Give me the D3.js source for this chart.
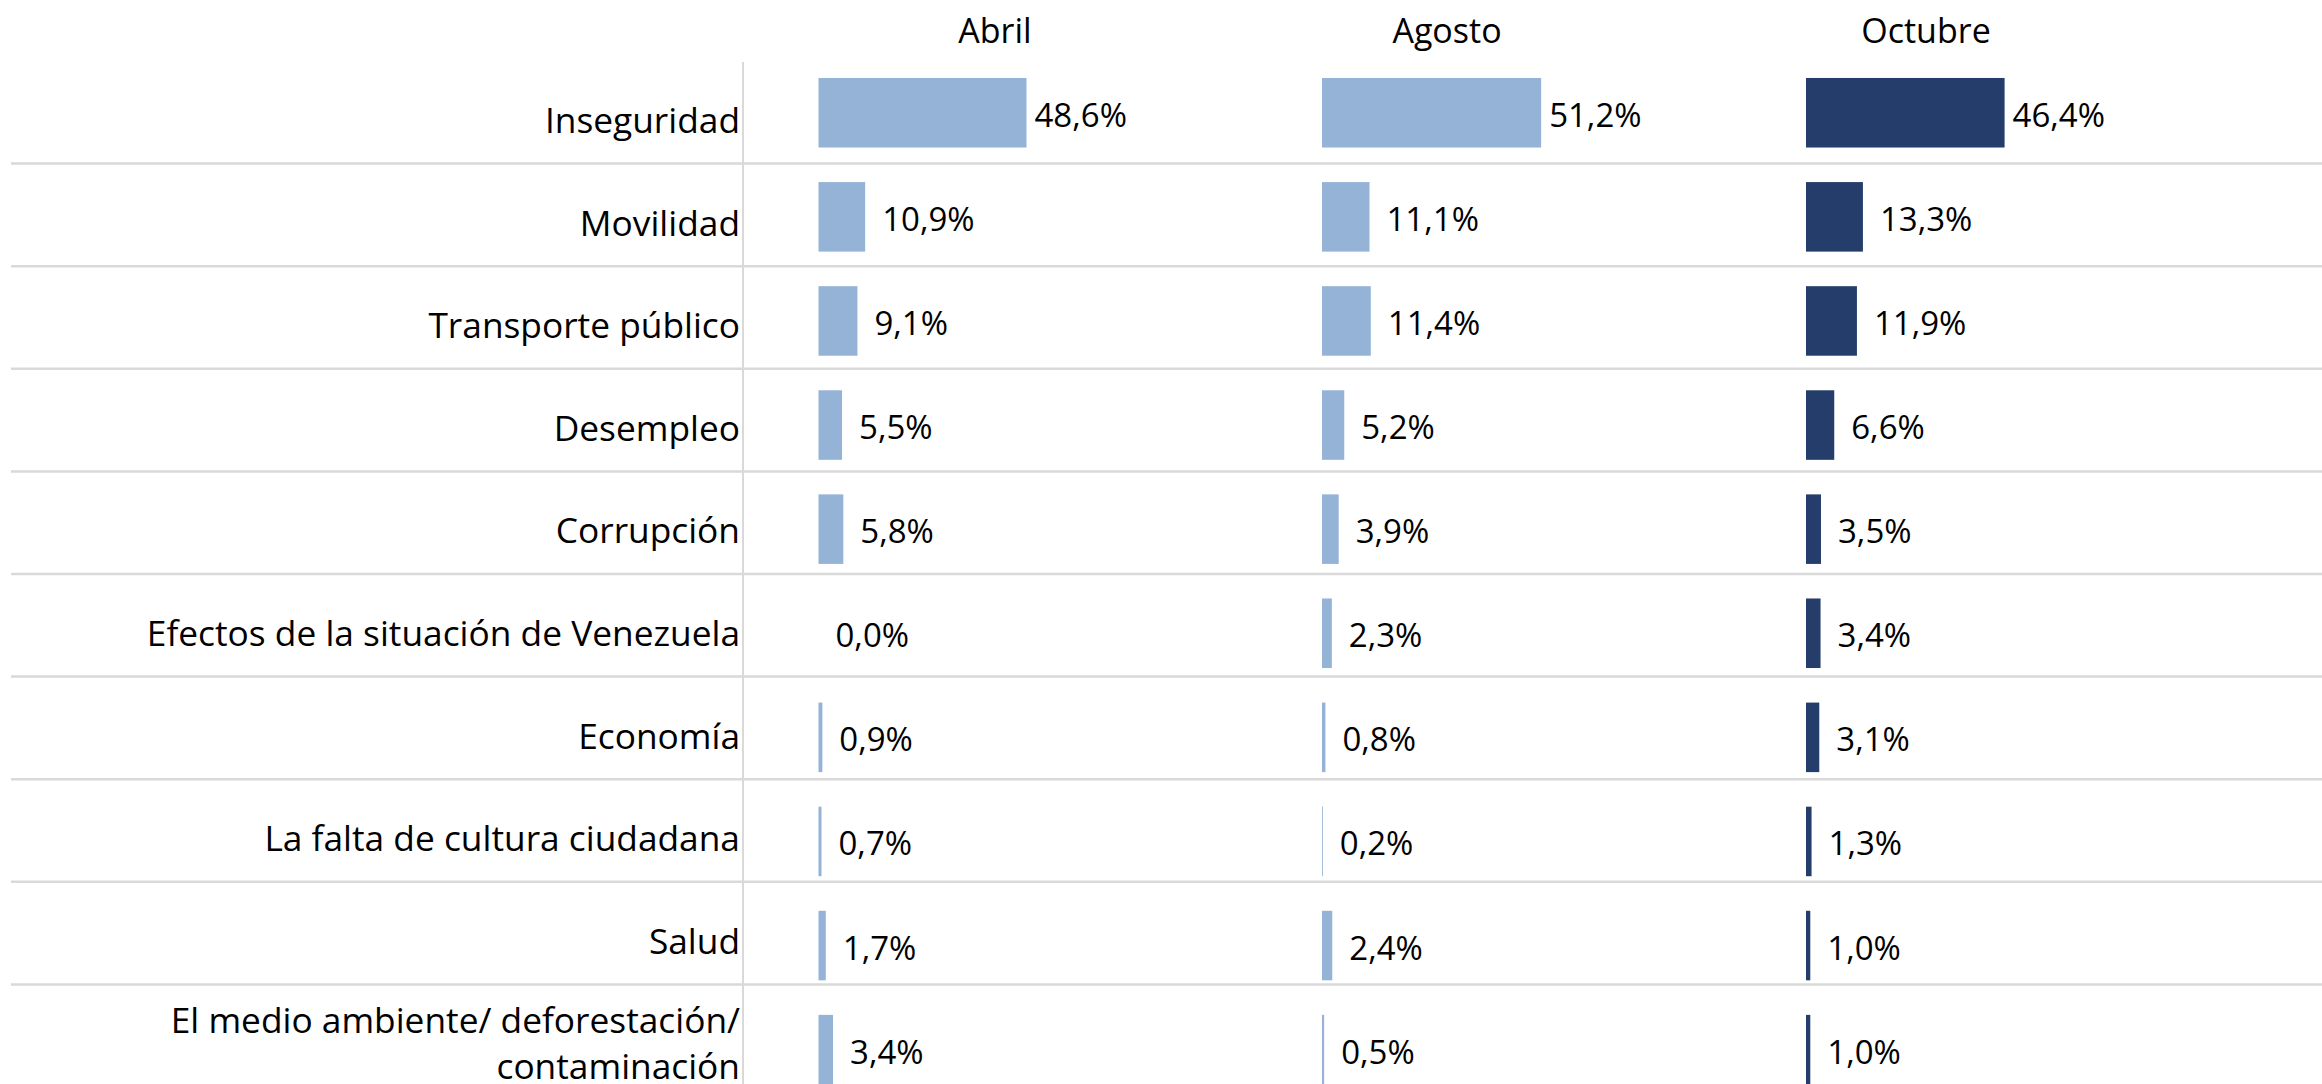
<!DOCTYPE html>
<html>
<head>
<meta charset="utf-8">
<script src="https://cdn.jsdelivr.net/npm/d3@7"></script>
<style>
  html, body { margin: 0; padding: 0; background: #fff; }
  svg { display: block; }
  text { font-family: "Open Sans", "Noto Sans", sans-serif; fill: #000; }
</style>
</head>
<body>
<svg id="chart" width="2322" height="1084"></svg>
<script>
// ---- data ----
const categories = [
  "Inseguridad",
  "Movilidad",
  "Transporte público",
  "Desempleo",
  "Corrupción",
  "Efectos de la situación de Venezuela",
  "Economía",
  "La falta de cultura ciudadana",
  "Salud",
  "El medio ambiente/ deforestación/\ncontaminación"
];
const periods = ["Abril", "Agosto", "Octubre"];
const abril   = [48.6, 10.9, 9.1, 5.5, 5.8, 0.0, 0.9, 0.7, 1.7, 3.4];
const agosto  = [51.2, 11.1, 11.4, 5.2, 3.9, 2.3, 0.8, 0.2, 2.4, 0.5];
const octubre = [46.4, 13.3, 11.9, 6.6, 3.5, 3.4, 3.1, 1.3, 1.0, 1.0];
const seriesValues = [abril, agosto, octubre];
const seriesColors = ["#95b3d7", "#95b3d7", "#253d6a"];

// ---- layout ----
const W = 2322, H = 1084;
const svg = d3.select("#chart");

// bar rows
const yBar = d3.scaleBand()
  .domain(categories)
  .range([60.7, 60.7 + 1041])
  .paddingInner(0.332)
  .paddingOuter(0.166);

// label rows / separators
const yRow = d3.scaleBand()
  .domain(categories)
  .range([61, 61 + 1026])
  .padding(0);

const x = d3.scaleLinear().domain([0, 100]).range([0, 428]);

const panelX = d3.scaleOrdinal().domain(periods).range([818.5, 1322, 1806]);
const headerX = d3.scaleOrdinal().domain(periods).range([995, 1447, 1926]);

const fmt = v => d3.format(".1f")(v).replace(".", ",") + "%";

// separators
svg.append("g").selectAll("line")
  .data(categories.slice(0, -1))
  .join("line")
  .attr("x1", 11).attr("x2", W)
  .attr("y1", d => yRow(d) + yRow.step())
  .attr("y2", d => yRow(d) + yRow.step())
  .attr("stroke", "#d9d9d9")
  .attr("stroke-width", 2.5);

// vertical axis line
svg.append("line")
  .attr("x1", 743).attr("x2", 743)
  .attr("y1", 62).attr("y2", H)
  .attr("stroke", "#d9d9d9")
  .attr("stroke-width", 2);

// category labels
const catG = svg.append("g");
categories.forEach(c => {
  const lines = c.split("\n");
  const base = yRow(c) + yRow.bandwidth() / 2 + 20.7;
  const t = catG.append("text")
    .attr("text-anchor", "end")
    .attr("font-size", 35.3);
  lines.forEach((ln, i) => {
    t.append("tspan")
      .attr("x", 740)
      .attr("y", base + (i - (lines.length - 1) / 2) * 46 + (lines.length > 1 ? 0 : 0))
      .text(ln);
  });
});

// headers
svg.append("g").selectAll("text")
  .data(periods)
  .join("text")
  .attr("x", d => headerX(d))
  .attr("y", 43)
  .attr("text-anchor", "middle")
  .attr("font-size", 34)
  .text(d => d);

// bars + value labels
periods.forEach((p, pi) => {
  const vals = seriesValues[pi];
  const g = svg.append("g").attr("transform", `translate(${panelX(p)},0)`);
  g.selectAll("rect")
    .data(categories)
    .join("rect")
    .attr("x", 0)
    .attr("y", c => yBar(c))
    .attr("width", (c, i) => x(vals[i]))
    .attr("height", yBar.bandwidth())
    .attr("fill", seriesColors[pi]);
  g.selectAll("text")
    .data(categories)
    .join("text")
    .attr("x", (c, i) => x(vals[i]) + (i === 0 ? 8 : 17))
    .attr("y", c => yBar(c) + yBar.bandwidth() / 2 + 14)
    .attr("font-size", 33)
    .text((c, i) => fmt(vals[i]));
});
</script>
</body>
</html>
